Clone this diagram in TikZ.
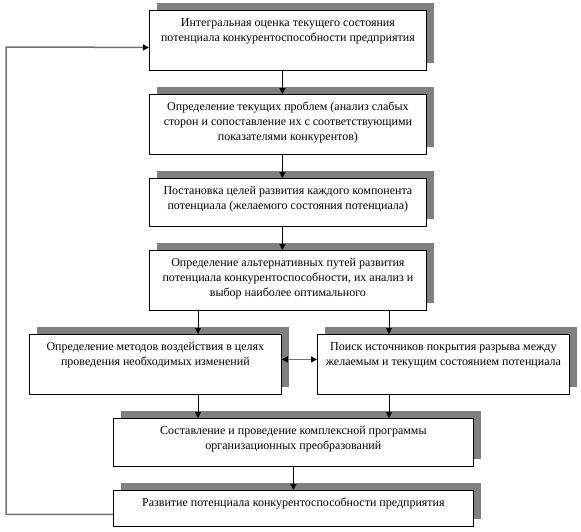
\documentclass[tikz,border=0pt]{standalone}
\usepackage{fontspec}
\setmainfont{Liberation Serif}
\usetikzlibrary{arrows.meta,shadows}
\definecolor{shadegray}{RGB}{128,128,128}
\definecolor{fbgray}{RGB}{112,112,112}
\newcommand\bxt[3]{\parbox[t][#2pt][t]{#1pt}{\centering\fontsize{12}{14.8}\selectfont\rule{0pt}{16pt}#3\par}}
\begin{document}
\begin{tikzpicture}[x=1pt,y=-1pt,
  stepbox/.style={draw=black, line width=0.8pt, fill=white, inner sep=0pt, anchor=north west,
    drop shadow={shadow xshift=7.5pt, shadow yshift=7.5pt, fill=shadegray, opacity=1}},
  arr/.style={-{Triangle[length=6pt,width=6pt]}, line width=0.8pt},
  fb/.style={-{Triangle[length=6pt,width=6pt,color=black]}, line width=1.5pt, draw=fbgray},
  darr/.style={{Triangle[length=6pt,width=6pt,color=black]}-{Triangle[length=6pt,width=6pt,color=black]}, line width=1.2pt, draw=fbgray}]
\useasboundingbox (0,0) rectangle (581,531);
\node[stepbox] (b1) at (149,10) {\bxt{277}{60}{Интегральная оценка текущего состояния\\потенциала конкурентоспособности предприятия}};
\node[stepbox] (b2) at (149,94) {\bxt{277}{60}{Определение текущих проблем (анализ слабых\\сторон и сопоставление их с соответствующими\\показателями конкурентов)}};
\node[stepbox] (b3) at (149,178) {\bxt{277}{48}{Постановка целей развития каждого компонента\\потенциала (желаемого состояния потенциала)}};
\node[stepbox] (b4) at (149,250) {\bxt{277}{60}{Определение альтернативных путей развития\\потенциала конкурентоспособности, их анализ и\\выбор наиболее оптимального}};
\node[stepbox] (b5) at (29,334) {\bxt{252}{60}{Определение методов воздействия в целях\\проведения необходимых изменений}};
\node[stepbox] (b6) at (317,334) {\bxt{252}{60}{Поиск источников покрытия разрыва между\\желаемым и текущим состоянием потенциала}};
\node[stepbox] (b7) at (113,418) {\bxt{360}{48}{Составление и проведение комплексной программы\\организационных преобразований}};
\node[stepbox] (b8) at (113,490) {\bxt{360}{36}{Развитие потенциала конкурентоспособности предприятия}};
\coordinate (fbl) at (6,47);
\draw[arr] ([xshift=-5.5pt]b1.south) -- ([xshift=-5.5pt]b2.north);
\draw[arr] ([xshift=-5.5pt]b2.south) -- ([xshift=-5.5pt]b3.north);
\draw[arr] ([xshift=-5.5pt]b3.south) -- ([xshift=-5.5pt]b4.north);
\draw[arr] (b4.south -| 198,0) -- (b5.north -| 198,0);
\draw[arr] (b4.south -| 389,0) -- (b6.north -| 389,0);
\draw[arr] (b5.south -| 198,0) -- (b7.north -| 198,0);
\draw[arr] (b6.south -| 389,0) -- (b7.north -| 389,0);
\draw[arr] (b7.south) -- (b8.north);
\draw[darr] ([yshift=5pt]b5.east) -- ([yshift=5pt]b6.west);
\draw[fb] ([yshift=-6pt]b8.west) -| (fbl) -- ([yshift=-7pt]b1.west);
\end{tikzpicture}
\end{document}
